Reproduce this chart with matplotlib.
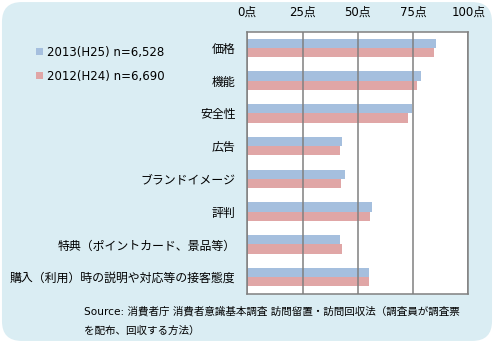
import matplotlib
matplotlib.use("Agg")
import matplotlib.pyplot as plt
from matplotlib.patches import FancyBboxPatch
import numpy as np

plt.rcParams['font.family'] = ['DejaVu Sans', 'Noto Sans CJK JP']

categories = ["価格", "機能", "安全性", "広告", "ブランドイメージ", "評判",
              "特典（ポイントカード、景品等）", "購入（利用）時の説明や対応等の接客態度"]
scores_2013 = [85.6, 78.8, 74.3, 43.0, 44.4, 56.2, 42.1, 54.9]
scores_2012 = [84.7, 77.0, 72.9, 42.1, 42.6, 55.3, 43.0, 54.9]
series_labels = ["2013(H25) n=6,528", "2012(H24) n=6,690"]
tick_values = [0, 25, 50, 75, 100]

BG = "#daedf3"
BLUE = "#a5bfde"
RED = "#e0a6a6"
GRID = "#808080"

fig = plt.figure(figsize=(4.94, 3.43), dpi=100)
fig.patch.set_facecolor("white")
bg = FancyBboxPatch((0.004, 0.006), 0.992, 0.988,
                    boxstyle="round,pad=0,rounding_size=0.04",
                    transform=fig.transFigure, facecolor=BG, edgecolor="none",
                    mutation_aspect=494 / 343, zorder=-10)
fig.patches.append(bg)

W, H = 494, 343
ax = fig.add_axes([247.3 / W, 1 - 293.5 / H, 221 / W, 262 / H])
ax.set_facecolor("white")

y = np.arange(len(categories))
bh = 0.28
ax.barh(y - bh / 2, scores_2013, height=bh, color=BLUE, label=series_labels[0], zorder=2)
ax.barh(y + bh / 2, scores_2012, height=bh, color=RED, label=series_labels[1], zorder=2)

ax.set_xlim(0, 100)
ax.set_ylim(len(categories) - 0.5, -0.5)
ax.set_xticks(tick_values)
ax.set_xticklabels([f"{v}点" for v in tick_values], fontsize=8.5)
ax.xaxis.tick_top()
ax.tick_params(axis="x", length=0, pad=9.5)
ax.set_yticks(y)
ax.set_yticklabels(categories, fontsize=8.6)
ax.tick_params(axis="y", length=0, pad=8.5)
for v in tick_values:
    ax.axvline(v, color=GRID, lw=1.1, zorder=3)
for s in ax.spines.values():
    s.set_color(GRID)
    s.set_linewidth(1.1)

leg = fig.legend(loc="upper left", bbox_to_anchor=(25 / W, 1 - 35 / H),
                 frameon=False, fontsize=8.5, handlelength=0.6, handleheight=0.6,
                 handletextpad=0.4, labelspacing=0.95)

fig.text(84 / W, 1 - 311 / H, "Source: 消費者庁 消費者意識基本調査 訪問留置・訪問回収法（調査員が調査票",
         fontsize=7.6, va="center")
fig.text(84 / W, 1 - 331 / H, "を配布、回収する方法）", fontsize=7.6, va="center")

fig.savefig("out.png", dpi=100, facecolor=fig.get_facecolor())
